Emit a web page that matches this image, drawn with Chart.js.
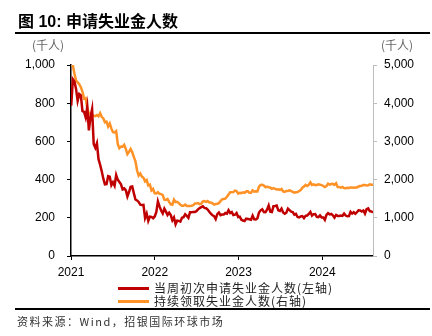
<!DOCTYPE html>
<html>
<head>
<meta charset="utf-8">
<script src="https://cdn.jsdelivr.net/npm/chart.js@4.4.1/dist/chart.umd.min.js"></script>
<style>
  html, body { margin: 0; padding: 0; background: #fff; }
  #wrap { position: relative; width: 432px; height: 336px; overflow: hidden; }
  #c { position: absolute; left: 0; top: 0; }
  .abs { position: absolute; white-space: nowrap; }
  #title { left: 18px; top: 8px; font: bold 16px "Liberation Sans", "Noto Sans CJK SC", sans-serif; color: #000; }
  .rule { position: absolute; left: 15px; width: 415px; height: 2px; background: #000; }
  .unit { font: 12px "Noto Sans CJK SC", sans-serif; color: #666; top: 36px; }
  .leg { left: 118px; font: 12px "Noto Sans CJK SC", sans-serif; color: #222; letter-spacing: 1px; }
  .leg span.sw { display: inline-block; width: 31px; height: 3px; vertical-align: middle; margin-right: 5px; position: relative; top: -1px; }
  #src { left: 17px; top: 313px; font: 11px "Noto Sans CJK SC", sans-serif; color: #333; letter-spacing: 1.5px; }
</style>
</head>
<body>
<div id="wrap">
  <canvas id="c" width="432" height="336"></canvas>
  <div id="title" class="abs"></div>
  <div class="rule" style="top:32px"></div>
  <div class="abs unit" style="left:32px">(千人)</div>
  <div class="abs unit" style="left:381px">(千人)</div>
  <div id="leg1" class="abs leg" style="top:279px"></div>
  <div id="leg2" class="abs leg" style="top:292px"></div>
  <div class="rule" style="top:308px"></div>
  <div id="src" class="abs"></div>
</div>
<script>
// ---- data ----
const titleText = '图 10: 申请失业金人数';
const sourceText = '资料来源：Wind，招银国际环球市场';
const seriesNames = ['当周初次申请失业金人数(左轴)', '持续领取失业金人数(右轴)'];
const firstWeek = '2021-01-02';   // weekly observations, one per week from this date
const yearTicks = [2021, 2022, 2023, 2024];

// initial jobless claims, thousands (left axis)
const initialClaims = [
  // 2021
  787, 926, 914, 875, 812, 848, 841, 758, 754, 725, 781, 658, 728, 769, 586, 566, 590, 507, 478, 444,
  405, 375, 376, 418, 415, 371, 386, 368, 424, 399, 387, 375, 349, 354, 345, 312, 335, 362, 364, 329,
  296, 291, 283, 269, 267, 268, 199, 222, 184, 206, 205, 198,
  // 2022
  207, 230, 286, 260, 238, 223, 248, 232, 215, 227, 214, 187, 202, 166, 185, 184, 180, 200, 203, 218,
  210, 200, 229, 229, 231, 231, 235, 244, 251, 256, 260, 252, 250, 243, 232, 222, 213, 209, 193, 219,
  228, 214, 217, 217, 225, 222, 240, 225, 230, 214, 216, 225, 204,
  // 2023
  206, 190, 186, 183, 196, 194, 192, 190, 211, 192, 191, 198, 228, 239, 245, 230, 229, 242, 264, 232,
  230, 261, 262, 264, 239, 236, 248, 228, 221, 227, 248, 240, 232, 230, 216, 220, 204, 202, 207, 209,
  198, 210, 212, 220, 231, 211, 219, 220, 205, 203, 212, 202,
  // 2024
  202, 189, 215, 224, 218, 220, 213, 201, 215, 210, 210, 212, 210, 222, 212, 208, 209, 231, 222, 229,
  221, 229, 239, 238, 233, 238, 222, 245, 249, 235, 233, 228
];

// continuing claims, thousands (right axis)
const continuingClaims = [
  // 2021
  5000, 4990, 4771, 4592, 4545, 4494, 4419, 4295, 4124, 4134, 3870, 3727, 3734, 3708, 3674, 3660, 3690, 3655, 3738, 3642,
  3602, 3499, 3518, 3390, 3469, 3339, 3241, 3236, 3269, 2930, 2820, 2866, 2862, 2908, 2806, 2665, 2727, 2802, 2714, 2593,
  2480, 2243, 2105, 2160, 2080, 2049, 1954, 1992, 1845, 1867, 1716, 1754,
  // 2022
  1638, 1635, 1672, 1628, 1621, 1593, 1476, 1469, 1494, 1419, 1350, 1342, 1475, 1408, 1417, 1384, 1343, 1317, 1317, 1346,
  1309, 1306, 1312, 1315, 1328, 1375, 1376, 1384, 1359, 1368, 1428, 1437, 1415, 1438, 1401, 1403, 1379, 1346, 1361, 1368,
  1385, 1438, 1485, 1494, 1503, 1551, 1608, 1671, 1670, 1672, 1710, 1697, 1634,
  // 2023
  1655, 1647, 1666, 1655, 1688, 1696, 1654, 1655, 1718, 1684, 1694, 1689, 1817, 1861, 1865, 1843, 1805, 1813, 1799, 1794,
  1757, 1775, 1759, 1742, 1745, 1729, 1754, 1690, 1679, 1702, 1702, 1725, 1697, 1679, 1658, 1670, 1673, 1702, 1727, 1790,
  1818, 1862, 1834, 1865, 1927, 1861, 1876, 1856, 1861, 1875, 1868, 1855,
  // 2024
  1833, 1806, 1828, 1894, 1871, 1886, 1889, 1862, 1906, 1805, 1803, 1791, 1810, 1781, 1774, 1785, 1781, 1794, 1791, 1787,
  1791, 1791, 1820, 1832, 1839, 1856, 1858, 1847, 1851, 1875, 1864, 1865
];

// ---- build ----
const RED = '#C00000', ORANGE = '#FF9226';
const DAY = 864e5, YEAR = 365.25 * DAY;
const t0 = Date.parse(firstWeek + 'T00:00:00Z');
const yearStart = Date.UTC(2021, 0, 1);
const toYear = i => 2021 + (t0 + i * 7 * DAY - yearStart) / YEAR;
const redPts = initialClaims.map((v, i) => ({ x: toYear(i), y: v }));
const orgPts = continuingClaims.map((v, i) => ({ x: toYear(i), y: v }));
const xMax = toYear(initialClaims.length - 1);

document.getElementById('title').textContent = titleText;
document.getElementById('src').textContent = sourceText;
const colors = [RED, ORANGE];
['leg1', 'leg2'].forEach((id, k) => {
  const el = document.getElementById(id);
  const sw = document.createElement('span');
  sw.className = 'sw'; sw.style.background = colors[k];
  el.appendChild(sw);
  el.appendChild(document.createTextNode(seriesNames[k]));
});

const tickFont = { family: '"Liberation Sans", Arial, sans-serif', size: 12 };
new Chart(document.getElementById('c'), {
  type: 'line',
  data: {
    datasets: [
      { label: seriesNames[0], data: redPts, yAxisID: 'y', borderColor: RED, borderWidth: 2.5, pointRadius: 0, tension: 0 },
      { label: seriesNames[1], data: orgPts, yAxisID: 'y1', borderColor: ORANGE, borderWidth: 2.5, pointRadius: 0, tension: 0 }
    ]
  },
  options: {
    responsive: false,
    animation: false,
    locale: 'en-US',
    layout: { padding: { top: 65, left: 0, right: 0, bottom: 0 } },
    plugins: { legend: { display: false }, tooltip: { enabled: false } },
    scales: {
      x: {
        type: 'linear', min: 2021, max: xMax,
        afterBuildTicks: s => { s.ticks = yearTicks.map(v => ({ value: v })); },
        afterFit: s => { s.height = 80; },
        ticks: { font: tickFont, color: '#000', padding: 5, callback: v => String(v), maxRotation: 0 },
        grid: { drawOnChartArea: false, drawTicks: true, tickLength: 4, color: '#000', lineWidth: 1 },
        border: { color: '#000', width: 1.5 }
      },
      y: {
        position: 'left', min: 0, max: 1000,
        afterFit: s => { s.width = 71; },
        ticks: { stepSize: 200, font: tickFont, color: '#000', padding: 12 },
        grid: { drawOnChartArea: false, drawTicks: true, tickLength: 4, color: '#000', lineWidth: 1 },
        border: { color: '#000', width: 1.5 }
      },
      y1: {
        position: 'right', min: 0, max: 5000,
        afterFit: s => { s.width = 59; },
        ticks: { stepSize: 1000, font: tickFont, color: '#000', padding: 7 },
        grid: { drawOnChartArea: false, drawTicks: true, tickLength: 4, color: '#bdbdbd', lineWidth: 1 },
        border: { color: '#bdbdbd', width: 1 }
      }
    }
  }
});
</script>
</body>
</html>
